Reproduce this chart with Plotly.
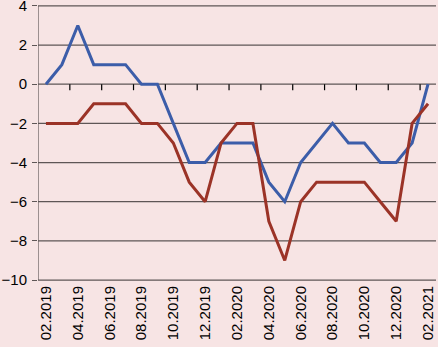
import plotly.graph_objects as go

months = ["02.2019", "03.2019", "04.2019", "05.2019", "06.2019", "07.2019", "08.2019",
          "09.2019", "10.2019", "11.2019", "12.2019", "01.2020", "02.2020", "03.2020",
          "04.2020", "05.2020", "06.2020", "07.2020", "08.2020", "09.2020", "10.2020",
          "11.2020", "12.2020", "01.2021", "02.2021"]
blue_values = [0, 1, 3, 1, 1, 1, 0, 0, -2, -4, -4, -3, -3, -3, -5, -6, -4, -3, -2, -3, -3, -4, -4, -3, 0]
red_values = [-2, -2, -2, -1, -1, -1, -2, -2, -3, -5, -6, -3, -2, -2, -7, -9, -6, -5, -5, -5, -5, -6, -7, -2, -1]
y_ticks = [-10, -8, -6, -4, -2, 0, 2, 4]

idx = list(range(len(months)))
label_idx = idx[::2]
label_text = months[::2]
minor_ticks = [i + 1.5 for i in idx[::2][:-1]]

BG = "#F7E4E4"
GRID = "#5E5656"
FONT = dict(family="Liberation Sans, Arial, sans-serif", size=15, color="#000000")

fig = go.Figure()
fig.add_trace(go.Scatter(x=idx, y=blue_values, mode="lines",
                         line=dict(color="#3C5DA9", width=3), showlegend=False))
fig.add_trace(go.Scatter(x=idx, y=red_values, mode="lines",
                         line=dict(color="#9B3327", width=3), showlegend=False))

shapes = []
for v in y_ticks:
    shapes.append(dict(type="line", xref="x", yref="y", x0=-0.5, x1=24.5, y0=v, y1=v,
                       layer="below", line=dict(color=GRID, width=1.2)))
for t in minor_ticks:
    shapes.append(dict(type="line", xref="x", yref="y", ysizemode="pixel", yanchor=0,
                       x0=t, x1=t, y0=0, y1=-6, layer="below",
                       line=dict(color="#000000", width=1.2)))
shapes.append(dict(type="line", xref="x", yref="y", x0=-0.5, x1=-0.5,
                   y0=min(y_ticks), y1=max(y_ticks), layer="below",
                   line=dict(color=GRID, width=1.2)))

yr = [-10.1, 4.25]
fig.update_layout(
    width=438, height=347,
    margin=dict(l=38, r=2, t=1, b=65),
    paper_bgcolor=BG, plot_bgcolor=BG,
    font=FONT,
    xaxis=dict(range=[-0.5, 24.5], tickvals=label_idx, ticktext=label_text,
               tickangle=-90, showgrid=False, zeroline=False, ticks="",
               showline=False, tickfont=FONT, automargin=False,
               ticklabeloverflow="allow", fixedrange=True),
    yaxis=dict(range=yr, tickvals=y_ticks, showgrid=False,
               zeroline=False, showline=False,
               ticks="outside", ticklen=5, tickcolor=GRID, tickfont=FONT,
               automargin=False, ticklabelstandoff=2, ticklabeloverflow="allow",
               fixedrange=True),
    shapes=shapes,
)
fig.write_html("out.html", post_script="document.body.style.margin='0';",
               config={"displayModeBar": False})
